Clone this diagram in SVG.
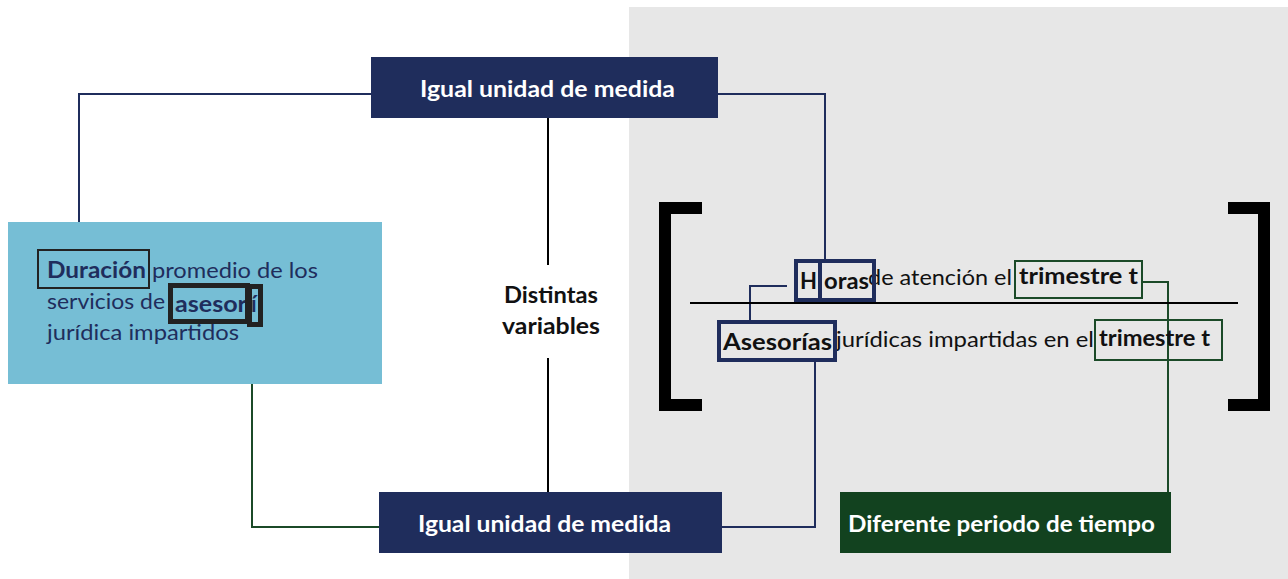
<svg xmlns="http://www.w3.org/2000/svg" width="1288" height="579" viewBox="0 0 1288 579">
<style>
.lbl{font-family:Lato,"Open Sans","Liberation Sans",sans-serif;font-weight:bold;font-size:23px;fill:#fff}
.t{font-family:Lato,"Open Sans","Liberation Sans",sans-serif;font-size:22px}
.b{font-weight:bold}
.navy{fill:#1f2d5c}
.blk{fill:#111}
.cn{fill:none;stroke:#1f2d5c;stroke-width:2}
.cg{fill:none;stroke:#1b4a28;stroke-width:2}
.ck{fill:none;stroke:#000;stroke-width:2}
</style>
<rect x="0" y="0" width="1288" height="579" fill="#fff"/>
<rect x="629" y="7" width="659" height="572" fill="#e7e7e7"/>

<g id="connectors">
  <polyline class="cn" points="79,250 79,94 371,94"/>
  <polyline class="cn" points="718,94 825,94 825,260"/>
  <polyline class="ck" points="548,118 548,265"/>
  <polyline class="ck" points="548,358 548,492"/>
  <polyline class="cg" points="252,327 252,527 379,527"/>
  <polyline class="cn" points="722,527 815,527 815,362"/>
  <polyline class="cg" points="1142,282 1168,282 1168,492"/>
  <polyline class="cn" points="787,286 750,286 750,320"/>
</g>

<g id="node-top">
  <rect x="371" y="57" width="347" height="61" fill="#1f2d5c"/>
  <text class="lbl" x="420" y="97" textLength="255" lengthAdjust="spacingAndGlyphs">Igual unidad de medida</text>
</g>
<g id="node-bottom">
  <rect x="379" y="492" width="343" height="61" fill="#1f2d5c"/>
  <text class="lbl" x="418" y="532" textLength="253" lengthAdjust="spacingAndGlyphs">Igual unidad de medida</text>
</g>
<g id="node-green">
  <rect x="840" y="492" width="331" height="61" fill="#12421f"/>
  <text class="lbl" x="848" y="532" textLength="307" lengthAdjust="spacingAndGlyphs">Diferente periodo de tiempo</text>
</g>
<g id="node-mid">
  <text class="t b blk" x="504" y="303" textLength="94" lengthAdjust="spacingAndGlyphs">Distintas</text>
  <text class="t b blk" x="502" y="334" textLength="98" lengthAdjust="spacingAndGlyphs">variables</text>
</g>

<g id="node-left">
  <rect x="8" y="222" width="374" height="162" fill="#76bed5"/>
  <text class="t navy b" x="47" y="278" textLength="99" lengthAdjust="spacingAndGlyphs">Duración</text>
  <text class="t navy" x="152" y="278" textLength="166" lengthAdjust="spacingAndGlyphs">promedio de los</text>
  <text class="t navy" x="47" y="309" textLength="118" lengthAdjust="spacingAndGlyphs">servicios de</text>
  <text class="t navy b" x="175" y="312" font-size="23" textLength="72" lengthAdjust="spacingAndGlyphs">asesor</text>
  <text class="t navy b" x="251" y="312" font-size="23">í</text>
  <text class="t navy" x="47" y="340" textLength="192" lengthAdjust="spacingAndGlyphs">jurídica impartidos</text>
  <rect x="38" y="250" width="111" height="38" fill="none" stroke="#222" stroke-width="2"/>
  <rect x="170.5" y="285.5" width="77" height="36" fill="none" stroke="#222" stroke-width="5"/>
  <rect x="249.5" y="286.5" width="11" height="38" fill="none" stroke="#222" stroke-width="5"/>
</g>

<g id="node-fraction">
  <path d="M702,208 H665 V405 H702" fill="none" stroke="#000" stroke-width="12"/>
  <path d="M1228,208 H1264 V405 H1228" fill="none" stroke="#000" stroke-width="12"/>
  <line x1="690" y1="303" x2="1238" y2="303" stroke="#000" stroke-width="2"/>
  <text class="t b blk" x="800" y="289" font-size="24" textLength="17" lengthAdjust="spacingAndGlyphs">H</text>
  <text class="t b blk" x="824" y="289" font-size="24" textLength="45" lengthAdjust="spacingAndGlyphs">oras</text>
  <text class="t blk" x="868" y="285" textLength="144" lengthAdjust="spacingAndGlyphs">de atención el</text>
  <text class="t b blk" x="1019" y="284" textLength="119" lengthAdjust="spacingAndGlyphs">trimestre t</text>
  <rect x="796" y="261" width="78" height="39" fill="none" stroke="#1f2d5c" stroke-width="4"/>
  <line x1="820" y1="261" x2="820" y2="300" stroke="#1f2d5c" stroke-width="4"/>
  <rect x="1015" y="261" width="127" height="37" fill="none" stroke="#1b4a28" stroke-width="2"/>
  <text class="t b blk" x="723" y="350" textLength="109" lengthAdjust="spacingAndGlyphs">Asesorías</text>
  <text class="t blk" x="836" y="347" textLength="258" lengthAdjust="spacingAndGlyphs">jurídicas impartidas en el</text>
  <text class="t b blk" x="1099" y="346" textLength="111" lengthAdjust="spacingAndGlyphs">trimestre t</text>
  <rect x="719" y="322" width="116" height="38" fill="none" stroke="#1f2d5c" stroke-width="4"/>
  <rect x="1095" y="320" width="127" height="40" fill="none" stroke="#1b4a28" stroke-width="2"/>
</g>
</svg>
